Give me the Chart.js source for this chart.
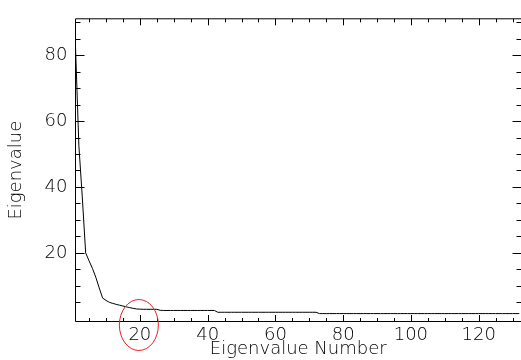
<!DOCTYPE html>
<html><head><meta charset="utf-8">
<script src="https://cdn.jsdelivr.net/npm/chart.js@4.4.1/dist/chart.umd.min.js"></script>
<style>html,body{margin:0;padding:0;background:#fff;}</style>
</head><body>
<canvas id="c" width="521" height="360"></canvas>
<script>
// Eigenvalue spectrum, value for eigenvalue number 1, 2, 3, ...
const eigenvalues = [
  82.5, 52.5, 37, 20, 17.6, 15.3, 12.6, 9.4, 6.3, 5.6,
  5.0, 4.7, 4.4, 4.15, 3.9, 3.65, 3.4, 3.2, 3.0, 2.95,
  2.9, 2.9, 2.9, 2.9, 2.9, 2.6,
  2.55, 2.55, 2.55, 2.55, 2.55, 2.55, 2.55, 2.55, 2.55, 2.55, 2.55, 2.55, 2.55, 2.55, 2.55, 2.55,
  2.0, 2.0, 2.0, 2.0, 2.0, 2.0, 2.0, 2.0, 2.0, 2.0, 2.0, 2.0, 2.0, 2.0, 2.0,
  2.0, 2.0, 2.0, 2.0, 2.0, 2.0, 2.0, 2.0, 2.0, 2.0, 2.0, 2.0, 2.0, 2.0, 2.0,
  1.6, 1.6, 1.6, 1.6, 1.6, 1.6, 1.6, 1.6, 1.6, 1.6, 1.6, 1.6, 1.6, 1.6, 1.6,
  1.6, 1.6, 1.6, 1.6, 1.6, 1.6, 1.6, 1.6, 1.6, 1.6, 1.6, 1.6, 1.6, 1.6, 1.6,
  1.6, 1.6, 1.6, 1.6, 1.6, 1.6, 1.6, 1.6, 1.6, 1.6, 1.6, 1.6, 1.6, 1.6, 1.6,
  1.6, 1.6, 1.6, 1.6, 1.6, 1.6, 1.6, 1.6, 1.6, 1.6, 1.6, 1.6, 1.6, 1.6, 1.6
];
const xTitle = 'Eigenvalue Number';
const yTitle = 'Eigenvalue';
const xRange = [1, 132.5];
const yRange = [-0.8, 91];
const minorStep = 5;
const labelStep = 20;
const highlightNumber = 20;

const points = eigenvalues.map((v, i) => ({x: i + 1, y: v}));

const frame = {
  id: 'frame',
  afterDraw(chart) {
    const {ctx, chartArea: a, scales: {x, y}} = chart;
    ctx.save();
    ctx.strokeStyle = '#000';
    ctx.lineWidth = 1;
    ctx.beginPath();
    ctx.moveTo(a.right + 2, a.top);
    ctx.lineTo(a.left, a.top);
    ctx.lineTo(a.left, a.bottom);
    ctx.lineTo(a.right + 2, a.bottom);
    ctx.stroke();
    ctx.beginPath();
    x.ticks.forEach(t => {
      const px = Math.round(x.getPixelForValue(t.value)) + 0.5;
      const len = (Math.round(t.value) % labelStep === 0) ? 6.5 : 3.5;
      ctx.moveTo(px, a.bottom); ctx.lineTo(px, a.bottom - len);
      ctx.moveTo(px, a.top); ctx.lineTo(px, a.top + len);
    });
    y.ticks.forEach(t => {
      if (Math.round(t.value) <= 0) return;
      const py = Math.round(y.getPixelForValue(t.value)) + 0.5;
      const len = (Math.round(t.value) % labelStep === 0) ? 9 : 5;
      ctx.moveTo(a.left, py); ctx.lineTo(a.left + len, py);
      ctx.moveTo(a.right + 0.5, py); ctx.lineTo(a.right + 0.5 - len, py);
    });
    ctx.stroke();
    const cx = x.getPixelForValue(highlightNumber) - 1;
    ctx.strokeStyle = 'rgb(235,30,30)';
    ctx.beginPath();
    ctx.ellipse(cx, a.bottom + 3.5, 19.5, 25.5, 0, 0, Math.PI * 2);
    ctx.stroke();
    ctx.restore();
  }
};

Chart.defaults.font.family = "'DejaVu Sans', sans-serif";
Chart.defaults.font.size = 18;
Chart.defaults.font.weight = 200;
Chart.defaults.color = '#000';

new Chart(document.getElementById('c'), {
  type: 'line',
  data: {
    datasets: [{
      data: points,
      borderColor: '#000',
      borderWidth: 1,
      pointRadius: 0,
      tension: 0,
      fill: false
    }]
  },
  options: {
    responsive: false,
    animation: false,
    devicePixelRatio: 1,
    layout: {padding: {top: 13.5, right: 0, bottom: 0, left: 0}},
    plugins: {legend: {display: false}, tooltip: {enabled: false}},
    scales: {
      x: {
        type: 'linear',
        min: xRange[0], max: xRange[1],
        grid: {display: false, drawTicks: false},
        border: {display: false},
        ticks: {
          stepSize: minorStep, includeBounds: false, autoSkip: false,
          maxRotation: 0, minRotation: 0, padding: 3,
          callback: v => (Math.round(v) % labelStep === 0 ? String(Math.round(v)) : '')
        },
        title: {display: true, text: xTitle, padding: {top: 0, bottom: 0}},
        afterFit: s => { s.height = 38.5; }
      },
      y: {
        type: 'linear',
        min: yRange[0], max: yRange[1],
        grid: {display: false, drawTicks: false},
        border: {display: false},
        ticks: {
          stepSize: minorStep, includeBounds: false, autoSkip: false, padding: 8,
          callback: v => (Math.round(v) > 0 && Math.round(v) % labelStep === 0 ? String(Math.round(v)) : '')
        },
        title: {display: true, text: yTitle, padding: {top: 6, bottom: 0}},
        afterFit: s => { s.width = 75.5; }
      }
    }
  },
  plugins: [frame]
});
</script>
</body></html>
